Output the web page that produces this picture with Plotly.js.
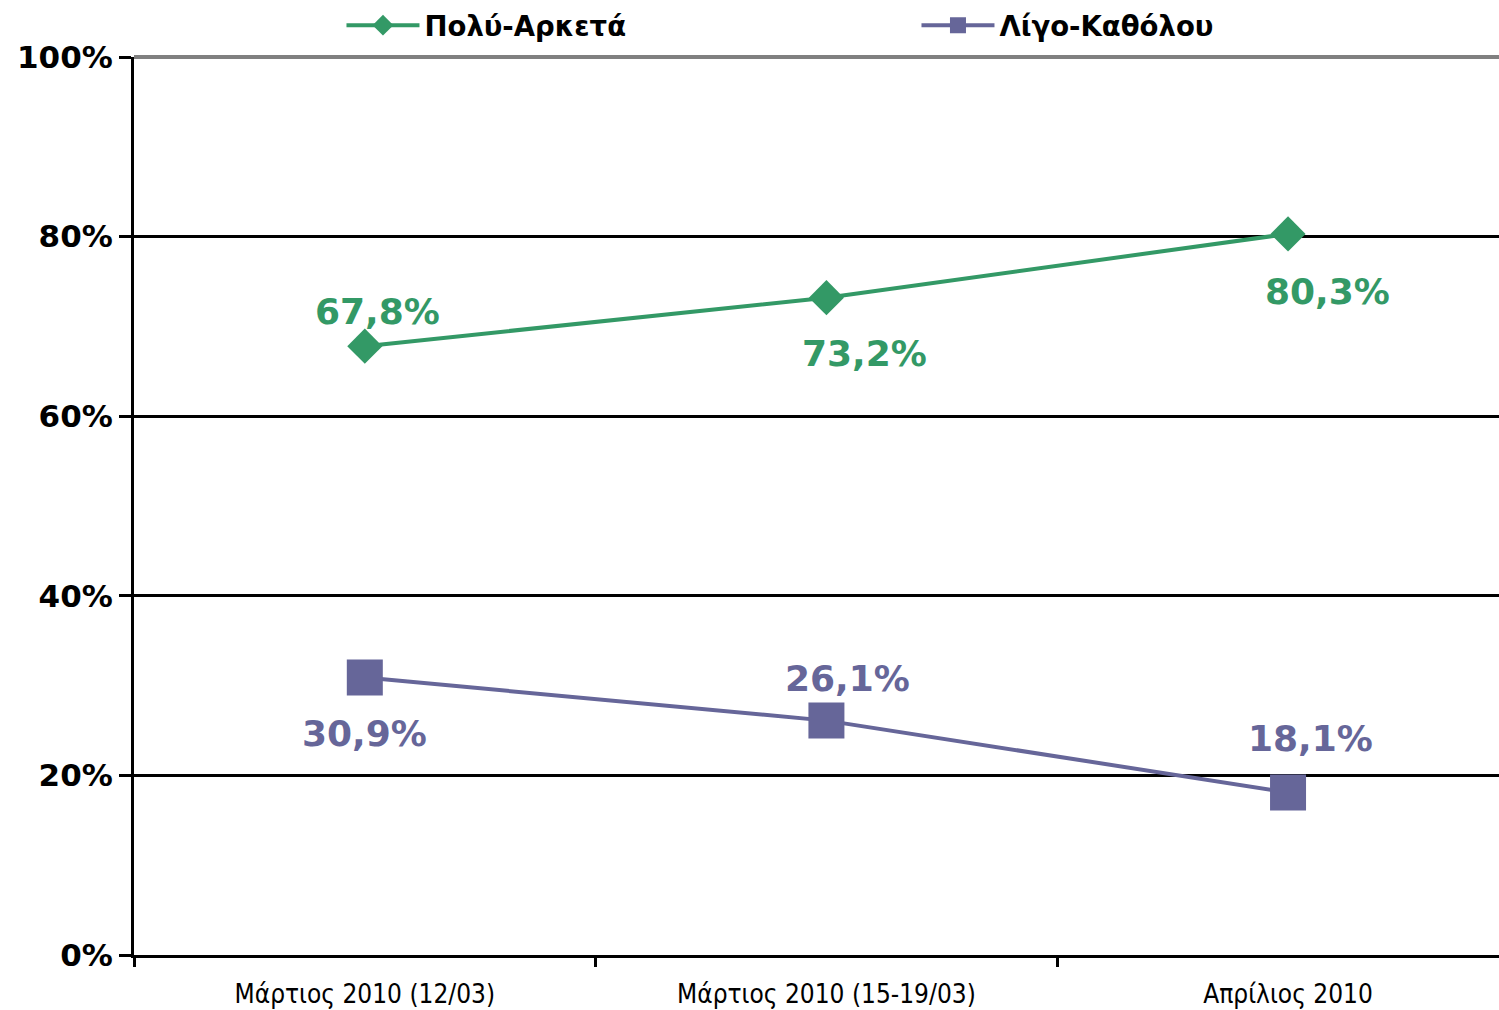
<!DOCTYPE html>
<html>
<head>
<meta charset="utf-8">
<script src="https://cdn.plot.ly/plotly-3.0.1.min.js"></script>
<style>html,body{margin:0;padding:0;background:#fff;overflow:hidden;}</style>
</head>
<body>
<div id="chart" style="width:1499px;height:1010px;"></div>
<script>
const categories = ["Μάρτιος 2010 (12/03)", "Μάρτιος 2010 (15-19/03)", "Απρίλιος 2010"];
const seriesNames = ["Πολύ-Αρκετά", "Λίγο-Καθόλου"];
const polyArketa = [67.8, 73.2, 80.3];
const ligoKatholou = [30.9, 26.1, 18.1];
const yTickVals = [0, 20, 40, 60, 80, 100];
const yTickText = ["0%", "20%", "40%", "60%", "80%", "100%"];

const green = "#339966";
const purple = "#666699";
const xIdx = categories.map((c, i) => i);
const fmt = v => v.toFixed(1).replace(".", ",") + "%";

const traces = [
  {
    x: xIdx, y: polyArketa, name: seriesNames[0], type: "scatter", mode: "lines+markers",
    line: {color: green, width: 4},
    marker: {symbol: "diamond", size: 27, color: green}
  },
  {
    x: xIdx, y: ligoKatholou, name: seriesNames[1], type: "scatter", mode: "lines+markers",
    line: {color: purple, width: 4},
    marker: {symbol: "square", size: 36, color: purple}
  }
];

const greenShift = [[13, 35], [38, -56], [39, -58]];
const purpleShift = [[0, -56], [21, 42], [22, 54]];
const labelFont = c => ({family: "DejaVu Sans", size: 36, color: c, weight: 700});
const annotations = [];
polyArketa.forEach((v, i) => annotations.push({
  x: i, y: v, xref: "x", yref: "y", text: fmt(v), showarrow: false,
  xshift: greenShift[i][0], yshift: greenShift[i][1], font: labelFont(green)
}));
ligoKatholou.forEach((v, i) => annotations.push({
  x: i, y: v, xref: "x", yref: "y", text: fmt(v), showarrow: false,
  xshift: purpleShift[i][0], yshift: purpleShift[i][1], font: labelFont(purple)
}));

const layout = {
  width: 1499, height: 1010,
  margin: {l: 134, r: 0, t: 57, b: 55, autoexpand: false},
  paper_bgcolor: "#fff", plot_bgcolor: "#fff",
  showlegend: true,
  legend: {
    orientation: "h", x: 0.152, xanchor: "left", y: 1.008, yanchor: "bottom",
    entrywidth: 487, entrywidthmode: "pixels", itemwidth: 73,
    font: {family: "DejaVu Sans", size: 27.5, color: "#000", weight: 700},
    bgcolor: "rgba(0,0,0,0)"
  },
  xaxis: {
    range: [-0.5, 2.457],
    tickmode: "array", tickvals: xIdx, ticktext: categories,
    ticks: "", showgrid: false, zeroline: false,
    showline: true, linecolor: "#000", linewidth: 3,
    ticklabelstandoff: 14,
    tickfont: {family: "DejaVu Sans Condensed", size: 26, color: "#000"},
    minor: {tickmode: "array", tickvals: [-0.5, 0.5, 1.5], ticks: "outside", ticklen: 9, tickwidth: 3, tickcolor: "#000", showgrid: false},
    fixedrange: true
  },
  yaxis: {
    range: [0, 100],
    tickmode: "array", tickvals: yTickVals, ticktext: yTickText,
    ticks: "outside", ticklen: 12, tickwidth: 3, tickcolor: "#000",
    showgrid: true, gridcolor: "#000", gridwidth: 3,
    zeroline: false, showline: true, linecolor: "#000", linewidth: 3,
    tickfont: {family: "DejaVu Sans", size: 31, color: "#000", weight: 700},
    fixedrange: true
  },
  shapes: [
    {type: "line", xref: "paper", yref: "paper", x0: 0, x1: 1, y0: 1, y1: 1, line: {color: "#808080", width: 4}, layer: "above"}
  ],
  annotations: annotations
};

Plotly.newPlot("chart", traces, layout, {displayModeBar: false, staticPlot: true});
</script>
</body>
</html>
